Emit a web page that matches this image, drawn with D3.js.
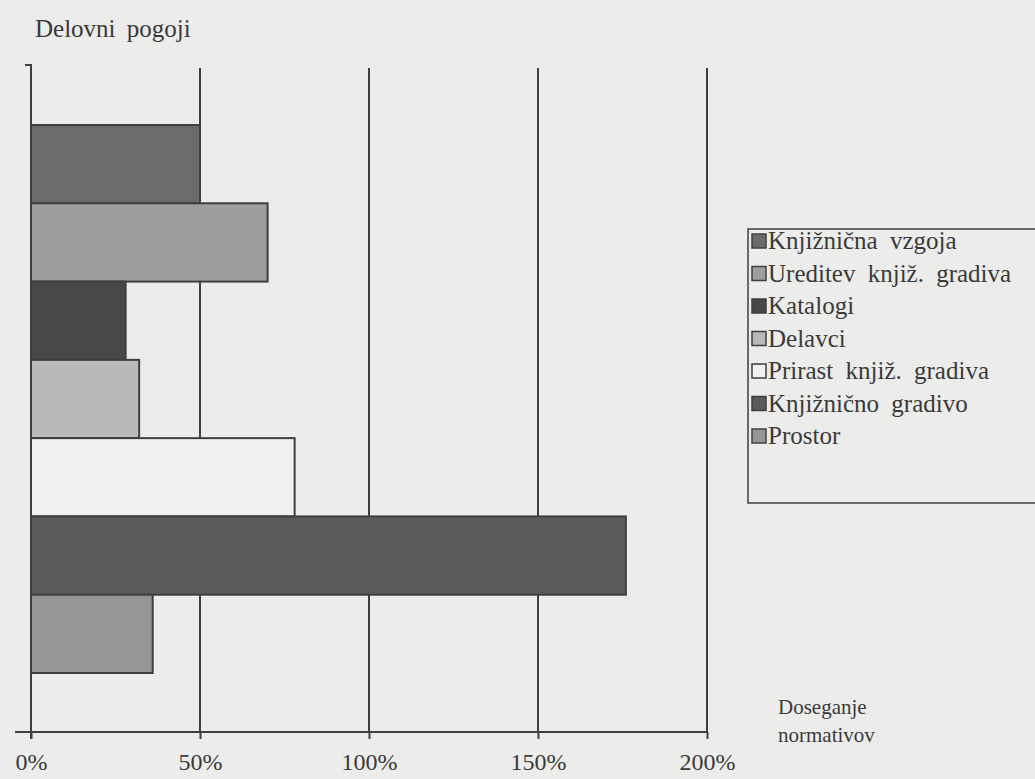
<!DOCTYPE html>
<html>
<head>
<meta charset="utf-8">
<script src="https://cdn.jsdelivr.net/npm/d3@7/dist/d3.min.js"></script>
<style>
  html, body { margin: 0; padding: 0; background: #ececea; }
  svg { display: block; }
  text { font-family: "Liberation Serif", "DejaVu Serif", serif; fill: #3a3a3a; }
</style>
</head>
<body>
<svg id="chart" width="1035" height="779"></svg>
<script>
// Working conditions: share of the norm reached (%)
const categories = [
  "Knjižnična vzgoja",
  "Ureditev knjiž. gradiva",
  "Katalogi",
  "Delavci",
  "Prirast knjiž. gradiva",
  "Knjižnično gradivo",
  "Prostor"
];
const values = [50, 70, 28, 32, 78, 176, 36];
const fills = ["#6b6b6b", "#9e9e9e", "#474747", "#b9b9b9", "#f1f1f0", "#5a5a5a", "#969696"];
const tickValues = [0, 50, 100, 150, 200];
const tickLabels = ["0%", "50%", "100%", "150%", "200%"];
const titleText = "Delovni pogoji";
const axisTitle = ["Doseganje", "normativov"];

const svg = d3.select("#chart");
const ink = "#3f3f3f";

const x = d3.scaleLinear().domain([0, 200]).range([31, 707]);
const y = d3.scaleBand().domain(categories).range([125, 673]).padding(0);
const axisY = 732;

// Vertical grid lines at each 50 %
svg.append("g")
  .selectAll("line")
  .data(tickValues.slice(1))
  .join("line")
  .attr("x1", d => x(d)).attr("x2", d => x(d))
  .attr("y1", 68).attr("y2", axisY)
  .attr("stroke", ink).attr("stroke-width", 2);

// Bars
svg.append("g")
  .selectAll("rect")
  .data(categories)
  .join("rect")
  .attr("x", x(0))
  .attr("y", d => y(d))
  .attr("width", (d, i) => x(values[i]) - x(0))
  .attr("height", y.bandwidth())
  .attr("fill", (d, i) => fills[i])
  .attr("stroke", ink)
  .attr("stroke-width", 2);

// Value axis (0 % line) with a short cap at the top
svg.append("path")
  .attr("d", `M25,65 H${x(0)} V${axisY + 7}`)
  .attr("fill", "none").attr("stroke", ink).attr("stroke-width", 2);

// Bottom axis
const xAxis = d3.axisBottom(x)
  .tickValues(tickValues)
  .tickSizeInner(7)
  .tickSizeOuter(0)
  .tickPadding(14)
  .tickFormat((d, i) => tickLabels[i]);

const gx = svg.append("g")
  .attr("transform", `translate(0,${axisY})`)
  .call(xAxis);
gx.select(".domain").remove();
gx.selectAll(".tick line").attr("stroke", ink).attr("stroke-width", 2);
gx.selectAll(".tick text")
  .attr("font-family", "Liberation Serif, serif")
  .attr("font-size", 24)
  .attr("fill", "#3a3a3a");
gx.append("line")
  .attr("x1", 15).attr("x2", x(200))
  .attr("y1", 0).attr("y2", 0)
  .attr("stroke", ink).attr("stroke-width", 2);

// Titles
svg.append("text")
  .attr("x", 35).attr("y", 37)
  .attr("font-size", 25)
  .attr("word-spacing", 5)
  .text(titleText);

svg.append("g")
  .selectAll("text")
  .data(axisTitle)
  .join("text")
  .attr("x", 778)
  .attr("y", (d, i) => 714 + i * 28)
  .attr("font-size", 21)
  .text(d => d);

// Legend
const legend = svg.append("g");
legend.append("rect")
  .attr("x", 748).attr("y", 229)
  .attr("width", 320).attr("height", 274)
  .attr("fill", "none")
  .attr("stroke", ink).attr("stroke-width", 1.5);

const item = legend.selectAll("g.item")
  .data(categories)
  .join("g")
  .attr("class", "item")
  .attr("transform", (d, i) => `translate(752,${241 + i * 32.5})`);

item.append("rect")
  .attr("x", 0).attr("y", -7)
  .attr("width", 14).attr("height", 14)
  .attr("fill", (d, i) => fills[i])
  .attr("stroke", ink).attr("stroke-width", 1.5);

item.append("text")
  .attr("x", 16).attr("y", 8)
  .attr("font-size", 25)
  .attr("word-spacing", 6)
  .text(d => d);
</script>
</body>
</html>
